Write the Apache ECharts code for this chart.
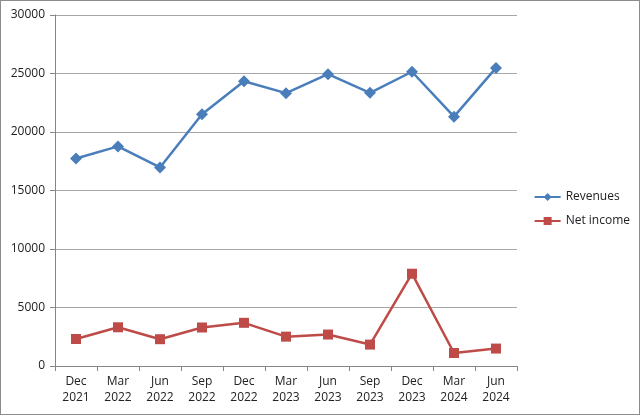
<!DOCTYPE html>
<html><head><meta charset="utf-8">
<script src="https://cdn.jsdelivr.net/npm/echarts@6/dist/echarts.min.js"></script>
<style>
html,body{margin:0;padding:0;background:#fff;}
#c{position:absolute;left:0;top:0;width:638px;height:413px;border:1px solid #8c8c8c;}
</style></head>
<body><div id="c"></div>
<script>
const categories = ["Dec\n2021","Mar\n2022","Jun\n2022","Sep\n2022","Dec\n2022","Mar\n2023","Jun\n2023","Sep\n2023","Dec\n2023","Mar\n2024","Jun\n2024"];
const revenues = [17740, 18770, 16970, 21510, 24340, 23320, 24940, 23350, 25150, 21310, 25480];
const netIncome = [2310, 3310, 2290, 3290, 3690, 2510, 2690, 1830, 7890, 1110, 1490];
const yTicks = {min: 0, max: 30000, interval: 5000};

const chart = echarts.init(document.getElementById('c'), null, {renderer: 'canvas'});
const font = 'Open Sans';
chart.setOption({
  animation: false,
  grid: {left: 54, right: 122, top: 14, bottom: 48, containLabel: false},
  legend: {
    orient: 'vertical', right: 4, top: 185, itemGap: 12,
    itemWidth: 26, itemHeight: 10,
    textStyle: {fontFamily: font, fontSize: 12, color: '#222'},
    data: ['Revenues', 'Net income']
  },
  xAxis: {
    type: 'category', data: categories, boundaryGap: true,
    axisLine: {lineStyle: {color: '#868686', width: 1}},
    axisTick: {show: true, alignWithLabel: false, length: 5, lineStyle: {color: '#868686'}},
    axisLabel: {fontFamily: font, fontSize: 12, color: '#222', lineHeight: 16, margin: 8, interval: 0}
  },
  yAxis: {
    type: 'value', min: yTicks.min, max: yTicks.max, interval: yTicks.interval,
    axisLine: {show: true, lineStyle: {color: '#868686'}},
    axisTick: {show: true, length: 5, lineStyle: {color: '#868686'}},
    axisLabel: {fontFamily: font, fontSize: 12, color: '#222', margin: 10, formatter: v => String(v)},
    splitLine: {lineStyle: {color: '#a6a6a6', width: 1}}
  },
  series: [
    {name: 'Revenues', type: 'line', data: revenues, symbol: 'diamond', symbolSize: 12,
     itemStyle: {color: '#4a7ebb'}, lineStyle: {color: '#4a7ebb', width: 2.5}},
    {name: 'Net income', type: 'line', data: netIncome, symbol: 'rect', symbolSize: 10,
     itemStyle: {color: '#be4b48'}, lineStyle: {color: '#be4b48', width: 2.5}}
  ]
});
</script></body></html>
